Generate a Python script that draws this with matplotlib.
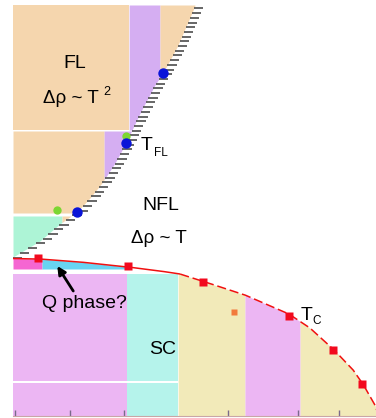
import numpy as np
import matplotlib
matplotlib.use("Agg")
import matplotlib.pyplot as plt
from matplotlib.collections import LineCollection

plt.rcParams['font.family'] = ['Liberation Sans', 'DejaVu Sans']

# ---------------- data ----------------
# T_FL boundary (pressure, temperature)
tfl_x = [0.00, 0.74, 1.29, 1.76, 2.12, 2.45, 2.81, 3.11, 3.50, 3.91, 4.13, 4.52, 4.88, 5.01]
tfl_T = [1.59, 1.75, 1.92, 2.04, 2.18, 2.33, 2.53, 2.73, 3.03, 3.31, 3.43, 3.69, 3.99, 4.10]
# Tc boundary
tc_x = [0.00, 0.74, 1.85, 3.17, 4.05, 4.60, 5.21, 6.39, 7.60, 8.18, 8.82, 9.37, 9.64, 9.97, 10.08]
tc_T = [1.575, 1.57, 1.54, 1.49, 1.45, 1.42, 1.35, 1.21, 1.02, 0.88, 0.67, 0.46, 0.32, 0.11, 0.0]
# measured points
tfl_pts_x = [1.76, 3.11, 4.13]
tfl_pts_T = [2.04, 2.73, 3.43]
green_x = [1.21, 3.11]
green_T = [2.06, 2.80]
tc_pts_x = [0.69, 3.17, 5.23, 7.60, 8.82, 9.61]
tc_pts_T = [1.58, 1.50, 1.34, 1.00, 0.66, 0.32]
extra_x = [6.09]
extra_T = [1.04]
tick_pos = [0.055, 1.57, 3.06, 5.92, 7.85, 8.98]

# colours
ORANGE = '#F5D6AE'
PURPLE = '#D5AEF2'
MINT = '#ADF4D6'
PINK = '#ECB6F3'
CYAN = '#B5F3EB'
YELLOW = '#F2EAB9'
HOTPINK = '#F566D2'
BLUE = '#68D4F2'

# upper blocks: (T_low, T_high, [(x_lo, x_hi, colour), ...])
upper_blocks = [
    (2.86, 4.11, [(0.0, 3.20, ORANGE), (3.20, 4.05, PURPLE), (4.05, 10.0, ORANGE)]),
    (2.03, 2.85, [(0.0, 2.51, ORANGE), (2.51, 10.0, PURPLE)]),
    (1.55, 2.00, [(0.0, 1.35, MINT), (1.35, 10.0, ORANGE)]),
]
# lower blocks: (T_low, T_high, [(x_lo, x_hi, colour)])
lower_blocks = [
    (1.47, 1.60, [(0.0, 0.80, HOTPINK), (0.80, 3.14, BLUE)]),
    (0.35, 1.42, [(0.0, 3.14, PINK), (3.14, 4.55, CYAN)]),
    (0.00, 0.33, [(0.0, 3.14, PINK), (3.14, 4.55, CYAN)]),
    (0.00, 2.00, [(4.55, 6.39, YELLOW), (6.39, 7.91, PINK), (7.91, 10.0, YELLOW)]),
]

def cx(T):
    return np.interp(T, tfl_T, tfl_x)

def tc(x):
    return np.interp(x, tc_x, tc_T)

fig = plt.figure(figsize=(3.76, 4.18), dpi=100)
ax = fig.add_axes([13/376, 2/418, 363/376, 411/418])
ax.set_xlim(0, 10)
ax.set_ylim(0, 4.11)

# upper fills (left of T_FL)
for tlo, thi, cols in upper_blocks:
    y = np.linspace(tlo, thi, 400)
    c = cx(y)
    for xlo, xhi, col in cols:
        right = np.minimum(c, xhi)
        ax.fill_betweenx(y, xlo, right, where=right > xlo, color=col, lw=0, interpolate=True)

# lower fills (below Tc)
for tlo, thi, cols in lower_blocks:
    for xlo, xhi, col in cols:
        x = np.linspace(xlo, xhi, 300)
        top = np.minimum(tc(x), thi)
        ax.fill_between(x, tlo, top, where=top > tlo, color=col, lw=0, interpolate=True)

# hatch marks along T_FL
hy = np.arange(1.585, 4.11, 0.047)
hx = cx(hy)
segs = [[(a, b), (a + 0.26, b)] for a, b in zip(hx, hy)]
ax.add_collection(LineCollection(segs, colors='#5a5a5a', linewidths=1.3, zorder=3))

# Tc line: solid then dashed
xs = np.linspace(0, 10.08, 500)
ts = tc(xs)
m = xs <= 4.6
ax.plot(xs[m], ts[m], color='#F01010', lw=1.1, zorder=4)
ax.plot(xs[~m], ts[~m], color='#F01010', lw=1.1, ls=(0, (6, 2.5)), zorder=4)

# markers
ax.plot(green_x, green_T, 'o', color='#7CD632', ms=6, mec='none', zorder=5)
ax.plot(tfl_pts_x, tfl_pts_T, 'o', color='#0A14D8', ms=7.5, mec='none', zorder=6)
ax.plot(tc_pts_x, tc_pts_T, 's', color='#F20A1E', ms=6, mec='none', zorder=6)
ax.plot(extra_x, extra_T, 's', color='#F27A3C', ms=4.5, mec='none', zorder=6)

# text
fs = 14
ax.text(1.71, 3.53, 'FL', fontsize=fs, ha='center', va='center')
ax.text(1.60, 3.18, 'Δρ ~ T', fontsize=13.5, ha='center', va='center')
ax.text(2.58, 3.24, '2', fontsize=9, ha='center', va='center')
ax.text(3.69, 2.70, 'T', fontsize=fs, ha='center', va='center')
ax.text(4.07, 2.635, 'FL', fontsize=8.5, ha='center', va='center')
ax.text(4.08, 2.11, 'NFL', fontsize=fs, ha='center', va='center')
ax.text(4.02, 1.78, 'Δρ ~ T', fontsize=13.5, ha='center', va='center')
ax.text(1.98, 1.13, 'Q phase?', fontsize=fs, ha='center', va='center')
ax.annotate('', xy=(1.22, 1.50), xytext=(1.66, 1.25),
            arrowprops=dict(arrowstyle='-|>', color='black', lw=2, mutation_scale=12,
                            shrinkA=0, shrinkB=0), zorder=7)
ax.text(4.13, 0.67, 'SC', fontsize=fs, ha='center', va='center')
ax.text(8.10, 1.01, 'T', fontsize=fs, ha='center', va='center')
ax.text(8.37, 0.95, 'C', fontsize=8.5, ha='center', va='center')

# axes styling
for s in ['left', 'right', 'top']:
    ax.spines[s].set_visible(False)
ax.spines['bottom'].set_color('#c9a6a6')
ax.spines['bottom'].set_linewidth(0.8)
ax.set_xticks(tick_pos)
ax.set_yticks([])
ax.tick_params(axis='x', direction='in', length=4, width=1, color='#7a6a8a', labelbottom=False)

fig.savefig('out.png', dpi=100)
